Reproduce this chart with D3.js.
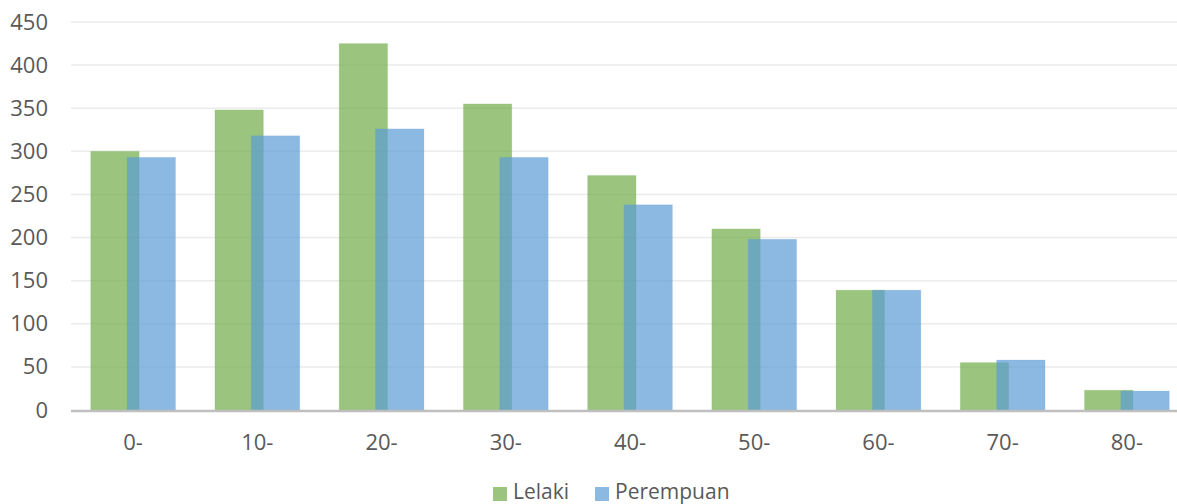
<!DOCTYPE html>
<html>
<head>
<meta charset="utf-8">
<script src="https://cdn.jsdelivr.net/npm/d3@7"></script>
<style>
  html, body { margin: 0; padding: 0; background: #fff; overflow: hidden; }
  svg { display: block; font-family: "Open Sans", "Liberation Sans", sans-serif; }
</style>
</head>
<body>
<svg id="chart" width="1177" height="504"></svg>
<script>
// Age groups and population counts by sex
const categories = ["0-", "10-", "20-", "30-", "40-", "50-", "60-", "70-", "80-"];
const lelaki    = [300, 348, 425, 355, 272, 210, 139, 55, 23];
const perempuan = [293, 318, 326, 293, 238, 198, 139, 58, 22];
const yTicks    = [0, 50, 100, 150, 200, 250, 300, 350, 400, 450];
const seriesNames = ["Lelaki", "Perempuan"];
const seriesColors = ["#70AD47", "#5B9BD5"];

const W = 1177, H = 504;
const plotLeft = 71, plotRight = 1189;   // plot area runs slightly past the right edge
const plotTop = 22, plotBottom = 410;
const svg = d3.select("#chart");

const x = d3.scaleBand()
  .domain(categories)
  .range([plotLeft, plotRight])
  .paddingInner(0).paddingOuter(0);

const y = d3.scaleLinear()
  .domain([0, 450])
  .range([plotBottom, plotTop]);

const fontFamily = "Open Sans, Liberation Sans, sans-serif";
const textColor = "#595959";

// Gridlines
svg.append("g")
  .selectAll("line")
  .data(yTicks.filter(d => d > 0))
  .join("line")
  .attr("x1", plotLeft).attr("x2", plotRight)
  .attr("y1", d => y(d)).attr("y2", d => y(d))
  .attr("stroke", "#ebebeb").attr("stroke-width", 1.5);

// Y axis labels
const yAxis = d3.axisLeft(y).tickValues(yTicks).tickSize(0).tickPadding(23);
const gy = svg.append("g").attr("transform", `translate(${plotLeft},0)`).call(yAxis);
gy.select(".domain").remove();
gy.selectAll("text")
  .attr("font-family", fontFamily)
  .attr("font-size", 22).attr("fill", textColor);

// Bars: two overlapping series per category
const barW = x.bandwidth() * 0.39;
const offset = barW * 0.75;
const groupW = barW + offset;

const series = [lelaki, perempuan];
series.forEach((vals, s) => {
  svg.append("g")
    .selectAll("rect")
    .data(vals.map((v, i) => ({ cat: categories[i], v })))
    .join("rect")
    .attr("x", d => x(d.cat) + x.bandwidth() / 2 - groupW / 2 + s * offset)
    .attr("y", d => y(d.v))
    .attr("width", barW)
    .attr("height", d => y(0) - y(d.v))
    .attr("fill", seriesColors[s])
    .attr("fill-opacity", 0.7)
    .attr("stroke", seriesColors[s])
    .attr("stroke-opacity", 0.15)
    .attr("stroke-width", 1);
});

// X axis baseline and labels
svg.append("line")
  .attr("x1", plotLeft).attr("x2", plotRight)
  .attr("y1", y(0) + 1).attr("y2", y(0) + 1)
  .attr("stroke", "#bfbfbf").attr("stroke-width", 2.5);

const xAxis = d3.axisBottom(x).tickSize(0).tickPadding(24);
const gx = svg.append("g").attr("transform", `translate(0,${y(0)})`).call(xAxis);
gx.select(".domain").remove();
gx.selectAll("text")
  .attr("font-family", fontFamily)
  .attr("font-size", 22).attr("fill", textColor);

// Legend
const legendItems = [
  { name: seriesNames[0], color: seriesColors[0], x: 493 },
  { name: seriesNames[1], color: seriesColors[1], x: 595 }
];
const lg = svg.append("g");
legendItems.forEach(item => {
  lg.append("rect")
    .attr("x", item.x).attr("y", 487)
    .attr("width", 14).attr("height", 14)
    .attr("fill", item.color).attr("fill-opacity", 0.7);
  lg.append("text")
    .attr("x", item.x + 20).attr("y", 499)
    .attr("font-family", fontFamily)
    .attr("font-size", 21).attr("fill", textColor)
    .text(item.name);
});
</script>
</body>
</html>
